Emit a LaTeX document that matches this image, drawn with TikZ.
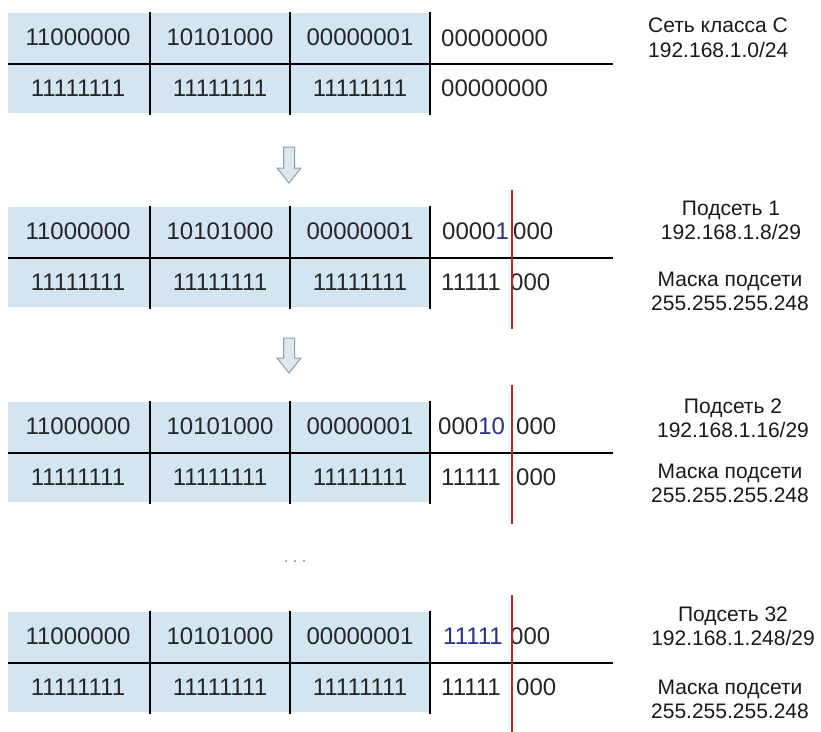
\documentclass[tikz,border=0pt]{standalone}
\usepackage{fontspec}
\setmainfont{Liberation Sans}
\definecolor{cellblue}{HTML}{D3E5F1}
\definecolor{navy}{HTML}{2E2E8C}
\definecolor{redline}{HTML}{B5262B}
\definecolor{arrowfill}{HTML}{DCE8F0}
\definecolor{arrowdraw}{HTML}{8C9BA8}
\definecolor{dotgray}{HTML}{9A9A9A}
\tikzset{
  rule/.style={draw=black, line width=1.6pt},
  cut/.style={draw=redline, line width=1.2pt},
  cell/.style={inner sep=0pt, font=\fontsize{24}{27}\selectfont, text=black!85},
  lbl/.style={inner sep=0pt, align=center, font=\fontsize{21}{24}\selectfont, text=black!90},
  blockarrow/.style={fill=arrowfill, draw=arrowdraw, line width=1pt, line join=miter},
}
\newcommand\ipblock[2]{%
  \fill[cellblue] (8,#2) rectangle (430,#2+100);
  \coordinate (#1hl) at (8,#2+51);
  \coordinate (#1hr) at (613,#2+51);
  \draw[rule] (#1hl) -- (#1hr);
  \foreach \x [count=\i] in {150,290,430} {
    \coordinate (#1t\i) at (\x,#2-1);
    \coordinate (#1b\i) at (\x,#2+102);
    \draw[rule] (#1t\i) -- (#1b\i);
  }
  \node[cell] (#1a1) at (78,#2+24) {11000000};
  \node[cell] (#1a2) at (220,#2+24) {10101000};
  \node[cell] (#1a3) at (360,#2+24) {00000001};
  \node[cell] (#1m1) at (78,#2+75) {11111111};
  \node[cell] (#1m2) at (220,#2+75) {11111111};
  \node[cell] (#1m3) at (360,#2+75) {11111111};
}
\newcommand\cutline[2]{%
  \coordinate (#1ct) at (512,#2-17);
  \coordinate (#1cb) at (512,#2+122);
  \draw[cut] (#1ct) -- (#1cb);
}
\newcommand\blockdown[3]{% x, top, tip
  \draw[blockarrow] (#1-5.5,#2) -- (#1+5.5,#2) -- (#1+5.5,#3-15) -- (#1+12,#3-15)
    -- (#1,#3) -- (#1-12,#3-15) -- (#1-5.5,#3-15) -- cycle;
}
\begin{document}
\begin{tikzpicture}[x=1pt,y=-1pt]
\useasboundingbox[fill=white] (0,0) rectangle (821,731);

% ---- block 1 ----
\ipblock{A}{13}
\node[cell, anchor=west] (Aa4) at (441,38) {00000000};
\node[cell, anchor=west] (Am4) at (441,88) {00000000};
\node[lbl, align=left, anchor=west, font=\fontsize{21}{25}\selectfont] (Alab) at (648,37.5)
  {Сеть класса С\\192.168.1.0/24};

\blockdown{289}{147}{183}

% ---- block 2 ----
\ipblock{B}{207}
\node[cell, anchor=west] (Ba4) at (442,231) {0000\textcolor{navy}{1}};
\node[cell, anchor=west] (Ba5) at (513,231) {000};
\node[cell, anchor=west] (Bm4) at (441,282) {11111};
\node[cell, anchor=west] (Bm5) at (510,282) {000};
\cutline{B}{207}
\node[lbl] (Blab) at (731,220) {Подсеть 1\\192.168.1.8/29};
\node[lbl] (Bmask) at (730,291) {Маска подсети\\255.255.255.248};

\blockdown{289}{338}{373}

% ---- block 3 ----
\ipblock{C}{402}
\node[cell, anchor=west] (Ca4) at (438,426) {000\textcolor{navy}{10}};
\node[cell, anchor=west] (Ca5) at (516,426) {000};
\node[cell, anchor=west] (Cm4) at (441,477) {11111};
\node[cell, anchor=west] (Cm5) at (516,477) {000};
\cutline{C}{402}
\node[lbl] (Clab) at (733,418) {Подсеть 2\\192.168.1.16/29};
\node[lbl] (Cmask) at (730,483) {Маска подсети\\255.255.255.248};

\node[inner sep=0pt, text=dotgray, font=\fontsize{18}{20}\selectfont] (dots) at (295,562) {.\hspace{4pt}.\hspace{4pt}.};

% ---- block 4 ----
\ipblock{D}{612}
\node[cell, anchor=west] (Da4) at (443,636) {\textcolor{navy}{11111}};
\node[cell, anchor=west] (Da5) at (510,636) {000};
\node[cell, anchor=west] (Dm4) at (441,687) {11111};
\node[cell, anchor=west] (Dm5) at (516,687) {000};
\cutline{D}{612}
\node[lbl] (Dlab) at (733,626) {Подсеть 32\\192.168.1.248/29};
\node[lbl] (Dmask) at (730,699) {Маска подсети\\255.255.255.248};
\end{tikzpicture}
\end{document}
